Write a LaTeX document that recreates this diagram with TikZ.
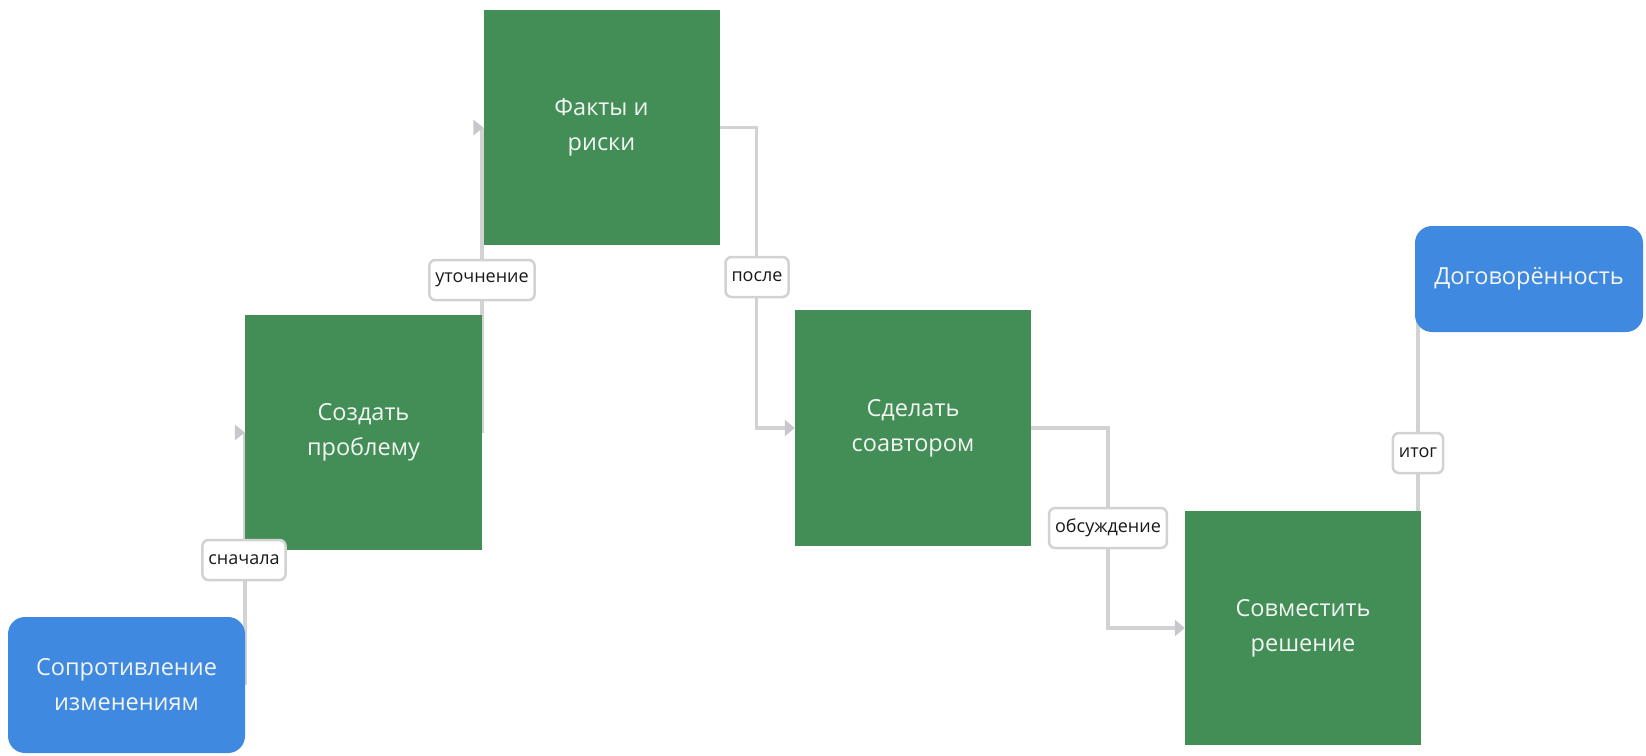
\documentclass[tikz,border=0pt]{standalone}
\usepackage{fontspec}
\setmainfont{Open Sans}
\usetikzlibrary{arrows.meta,calc}
\pgfdeclarelayer{bg}
\pgfsetlayers{bg,main}
\definecolor{gfill}{HTML}{438E57}
\definecolor{bfill}{HTML}{3F89E0}
\definecolor{lin}{HTML}{D2D2D2}
\definecolor{tipc}{HTML}{C8C8CC}
\definecolor{txt}{HTML}{F2F5F2}
\begin{document}
\begin{tikzpicture}[x=1pt,y=-1pt,
  greenbox/.style={rectangle, fill=gfill, inner sep=0pt, text=txt,
    font=\fontsize{23.5}{35}\selectfont, align=center},
  bluebox/.style={rectangle, rounded corners=17pt, fill=bfill, inner sep=0pt, text=txt,
    font=\fontsize{23.5}{35}\selectfont, align=center},
  lbl/.style={rectangle, rounded corners=6pt, draw=lin, line width=2.5pt, fill=white,
    font=\fontsize{18}{20}\selectfont, text=black!90, minimum height=40pt, inner xsep=6pt},
  conn/.style={draw=lin, line width=3.5pt},
  arr/.style={-{Triangle[length=10pt,width=16pt,color=tipc]}}
]
\useasboundingbox (0,0) rectangle (1646,755);

\node[bluebox, minimum width=237pt, minimum height=136pt] (b1) at (126.5,685) {Сопротивление\\изменениям};
\node[greenbox, minimum width=237pt, minimum height=235pt] (sozdat) at (363.5,432.5) {Создать\\проблему};
\node[greenbox, minimum width=236pt, minimum height=235pt] (fakty) at (601.5,127.5) {Факты и\\риски};
\node[greenbox, minimum width=236pt, minimum height=236pt] (sdelat) at (913,428) {Сделать\\соавтором};
\node[greenbox, minimum width=236pt, minimum height=234pt] (sovm) at (1303,628) {Совместить\\решение};
\node[bluebox, minimum width=228pt, minimum height=106pt] (b2) at (1529,279) {Договорённость};

\begin{pgfonlayer}{bg}
  \fill[white] (0,0) rectangle (1646,755);
  \draw[conn] (b1.east) -- (b1.east |- sozdat.west);
  \draw[conn] (sozdat.east) -- (sozdat.east |- fakty.west);
  \draw[conn, arr] (fakty.east) -- ++(37,0) |- (sdelat.west);
  \draw[conn, arr] (sdelat.east) -- ++(77,0) |- (sovm.west);
  \draw[conn] ([xshift=-3pt]sovm.north east) -- ([xshift=-3pt]sovm.north east |- b2.west);
\end{pgfonlayer}
\fill[tipc] (sozdat.west) -- ++(-10,-8) -- ++(0,16) -- cycle;
\fill[tipc] (fakty.west) -- ++(-10,-8) -- ++(0,16) -- cycle;

\node[lbl] (l1) at (244,560) {сначала};
\node[lbl] (l2) at (482,280) {уточнение};
\node[lbl] (l3) at (757,277) {после};
\node[lbl] (l4) at (1108,528) {обсуждение};
\node[lbl] (l5) at (1418,453) {итог};
\end{tikzpicture}
\end{document}
